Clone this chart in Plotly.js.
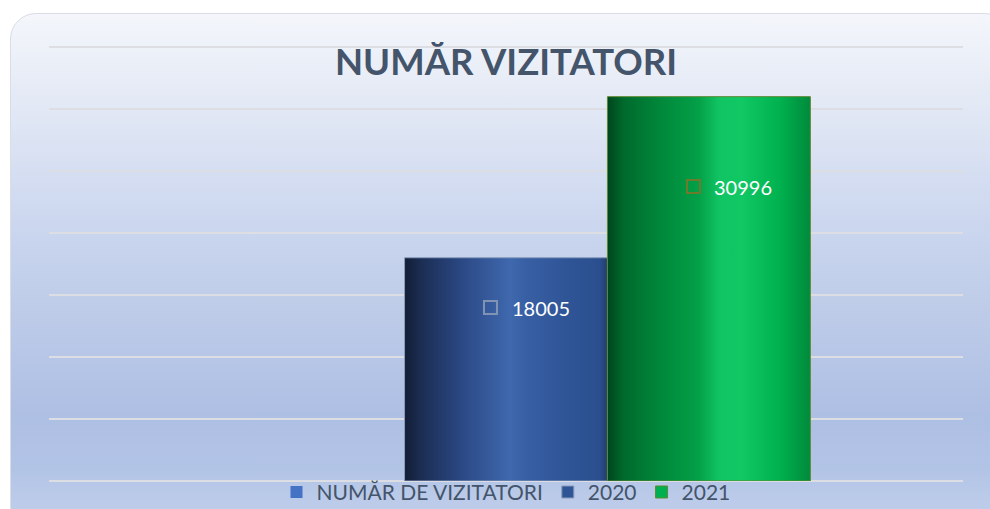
<!DOCTYPE html>
<html>
<head>
<meta charset="utf-8">
<script src="https://cdn.plot.ly/plotly-3.0.1.min.js"></script>
<style>
  html, body { margin: 0; padding: 0; background: #ffffff; }
  #wrap { position: relative; width: 990px; height: 509px; overflow: hidden; }
  #bg {
    position: absolute; left: 10px; top: 13px; width: 1000px; height: 520px;
    box-sizing: border-box; border: 1.5px solid #d9dde5; border-radius: 26px;
    background: linear-gradient(to bottom, #f4f6fb 0%, #f1f4fa 3%, #e3e9f5 17%, #ccd7ef 40%, #bfcde9 55%, #aebfe4 78%, #b2c4e6 88%, #bccbe9 94%, #c0cfea 100%);
  }
  #chart { position: absolute; left: 0; top: 0; width: 990px; height: 509px; }
</style>
</head>
<body>
<svg width="0" height="0" style="position:absolute">
  <defs>
    <linearGradient id="g2020" x1="0" y1="0" x2="1" y2="0">
      <stop offset="0" stop-color="#131d36"/>
      <stop offset="0.08" stop-color="#1b2d52"/>
      <stop offset="0.27" stop-color="#2a4782"/>
      <stop offset="0.52" stop-color="#3f68ae"/>
      <stop offset="0.6" stop-color="#385fa3"/>
      <stop offset="0.8" stop-color="#2f5597"/>
      <stop offset="0.96" stop-color="#2b4f8e"/>
      <stop offset="1" stop-color="#213d70"/>
    </linearGradient>
    <linearGradient id="g2021" x1="0" y1="0" x2="1" y2="0">
      <stop offset="0" stop-color="#00451d"/>
      <stop offset="0.08" stop-color="#006a2c"/>
      <stop offset="0.25" stop-color="#00863a"/>
      <stop offset="0.45" stop-color="#04a048"/>
      <stop offset="0.55" stop-color="#11c463"/>
      <stop offset="0.66" stop-color="#10c864"/>
      <stop offset="0.85" stop-color="#00b14f"/>
      <stop offset="1" stop-color="#008a3b"/>
    </linearGradient>
  </defs>
</svg>
<div id="wrap">
  <div id="bg"></div>
  <div id="chart"></div>
</div>
<script>
// ---- data ----
const categories = ["NUMĂR DE VIZITATORI"];
const seriesNames = ["NUMĂR DE VIZITATORI", "2020", "2021"];
const valuesTotal = [null];
const values2020 = [18005];
const values2021 = [30996];
const chartTitle = "NUMĂR VIZITATORI";

const FONT = "Lato, 'Open Sans', sans-serif";
const TXT = "#44546a";

const traces = [
  { type: "bar", name: seriesNames[0], x: categories, y: valuesTotal,
    marker: { color: "#4472c4" }, hoverinfo: "skip" },
  { type: "bar", name: seriesNames[1], x: categories, y: values2020,
    marker: { color: "#2f5597", line: { color: "#8a9cba", width: 1 } }, hoverinfo: "skip" },
  { type: "bar", name: seriesNames[2], x: categories, y: values2021,
    marker: { color: "#00b050", line: { color: "#5f8a33", width: 1 } }, hoverinfo: "skip" }
];

const annotations = [
  // value labels
  { x: categories[0], y: values2020[0], xref: "x", yref: "y", text: String(values2020[0]),
    showarrow: false, xanchor: "left", yanchor: "middle", xshift: 4, yshift: -50,
    font: { family: FONT, size: 20, color: "#ffffff" } },
  { x: categories[0], y: values2021[0], xref: "x", yref: "y", text: String(values2021[0]),
    showarrow: false, xanchor: "left", yanchor: "middle", xshift: 206, yshift: -90,
    font: { family: FONT, size: 20, color: "#ffffff" } },
  // label keys (small outlined squares)
  { x: categories[0], y: values2020[0], xref: "x", yref: "y", text: " ",
    showarrow: false, xanchor: "center", yanchor: "middle", xshift: -15.5, yshift: -50,
    width: 11, height: 11, borderpad: 0, bordercolor: "#8093b3", borderwidth: 2,
    font: { size: 4 } },
  { x: categories[0], y: values2021[0], xref: "x", yref: "y", text: " ",
    showarrow: false, xanchor: "center", yanchor: "middle", xshift: 187.5, yshift: -90,
    width: 11, height: 11, borderpad: 0, bordercolor: "#6e7b2c", borderwidth: 2,
    font: { size: 4 } }
];

const layout = {
  width: 990, height: 509,
  margin: { l: 49, r: 27, t: 45, b: 28, pad: 0, autoexpand: false },
  paper_bgcolor: "rgba(0,0,0,0)",
  plot_bgcolor: "rgba(0,0,0,0)",
  title: {
    text: "<b>" + chartTitle + "</b>",
    font: { family: FONT, size: 36.5, color: TXT },
    x: 0.5, xref: "paper", xanchor: "center",
    y: 1 - 62 / 509, yref: "container", yanchor: "middle"
  },
  barmode: "group",
  bargap: 0.334,
  bargroupgap: 0,
  xaxis: { showticklabels: false, showgrid: false, zeroline: false, showline: false, ticks: "" },
  yaxis: {
    range: [0, 35161], tick0: 0, dtick: 5000, showticklabels: false, ticks: "",
    showgrid: true, gridcolor: "#dcdee4", gridwidth: 2,
    zeroline: true, zerolinecolor: "#dcdee4", zerolinewidth: 2, showline: false
  },
  showlegend: true,
  legend: {
    orientation: "h", x: 0.5, xanchor: "center", y: -0.026, yanchor: "middle",
    font: { family: FONT, size: 21, color: TXT }, bgcolor: "rgba(0,0,0,0)",
    itemclick: false, itemdoubleclick: false
  },
  annotations: annotations
};

Plotly.newPlot("chart", traces, layout, { displayModeBar: false, staticPlot: true }).then(function (gd) {
  const grads = [null, "url(#g2020)", "url(#g2021)"];
  const groups = gd.querySelectorAll(".barlayer .trace");
  groups.forEach(function (g, i) {
    if (!grads[i]) return;
    g.querySelectorAll(".point path").forEach(function (p) { p.style.fill = grads[i]; });
  });
});
</script>
</body>
</html>
